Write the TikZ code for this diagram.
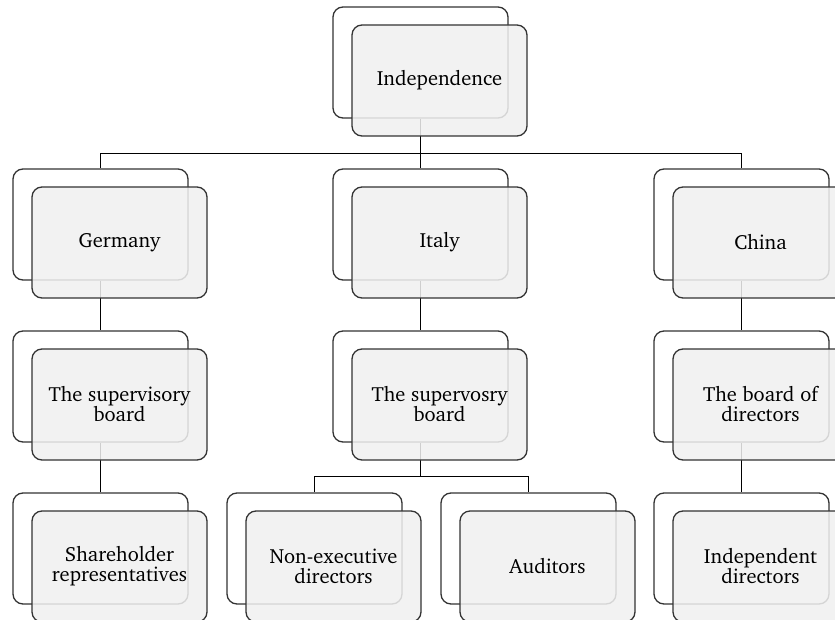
\documentclass[tikz,border=0pt]{standalone}
\usepackage[T1]{fontenc}
\usepackage{charter}
\usetikzlibrary{backgrounds}

\tikzset{
  box/.style={draw=black!80, line width=1.3pt, rounded corners=10pt,
    minimum width=175pt, minimum height=111pt, inner sep=0pt},
  backbox/.style={box, fill=white},
  frontbox/.style={box, fill=black!6, fill opacity=0.86, text opacity=1,
    align=center, font=\fontsize{20.5}{20}\selectfont},
  link/.style={draw=black, line width=1.5pt},
}

% a back card with a lighter card stacked on it, offset down and right
\newcommand{\stackcard}[4]{%
  \node[backbox] (#1-b) at (#2,#3) {};
  \node[frontbox] (#1) at (#2+19,#3+18) {#4};
}

\begin{document}
\begin{tikzpicture}[x=1pt, y=-1pt]
\useasboundingbox (0,0) rectangle (835,620);
\clip (0,0) rectangle (835,620);

\stackcard{ind}{420.5}{62.5}{Independence}
\stackcard{ger}{100.5}{224.5}{Germany}
\stackcard{ita}{420.5}{224.5}{Italy}
\stackcard{chi}{741.5}{224.5}{China}
\stackcard{gsb}{100.5}{386.5}{The supervisory\\board}
\stackcard{isb}{420.5}{386.5}{The supervosry\\board}
\stackcard{cbd}{741.5}{386.5}{The board of\\directors}
\stackcard{sha}{100.5}{548.5}{Shareholder\\representatives}
\stackcard{non}{314.5}{548.5}{Non-executive\\directors}
\stackcard{aud}{528.5}{548.5}{Auditors}
\stackcard{ind2}{741.5}{548.5}{Independent\\directors}

\begin{scope}[on background layer]
  \coordinate (j1) at (420.5,153.5);
  \coordinate (j2) at (420.5,476.5);
  \draw[link] (ind-b.south) -- (j1) -| (ger-b.north);
  \draw[link] (j1) -| (chi-b.north);
  \draw[link] (j1) -- (ita-b.north);
  \draw[link] (ger-b.south) -- (gsb-b.north);
  \draw[link] (gsb-b.south) -- (sha-b.north);
  \draw[link] (ita-b.south) -- (isb-b.north);
  \draw[link] (isb-b.south) -- (j2) -| (non-b.north);
  \draw[link] (j2) -| (aud-b.north);
  \draw[link] (chi-b.south) -- (cbd-b.north);
  \draw[link] (cbd-b.south) -- (ind2-b.north);
\end{scope}
\end{tikzpicture}
\end{document}
